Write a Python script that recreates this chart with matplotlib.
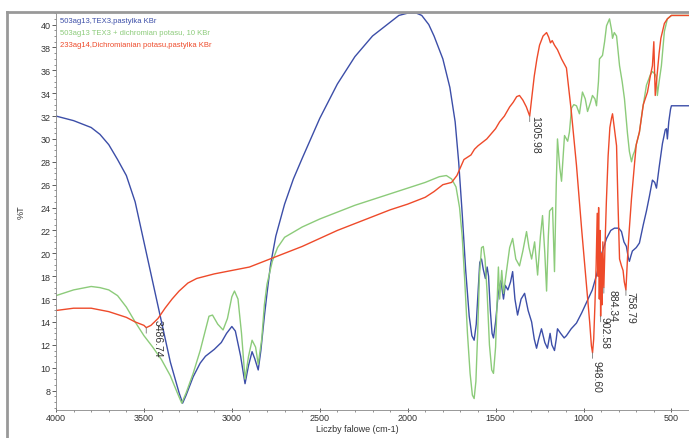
import matplotlib
matplotlib.use("Agg")
import matplotlib.pyplot as plt
from matplotlib.lines import Line2D
from matplotlib.ticker import MultipleLocator

plt.rcParams['font.family'] = ['Liberation Sans', 'DejaVu Sans']

# widma IR: liczba falowa (cm-1) i %T
wn_blue = [4000, 3900, 3800, 3750, 3700, 3650, 3600, 3550, 3500, 3450, 3400, 3350, 3300, 3280,
           3260, 3220, 3180, 3150, 3100, 3060, 3030, 3000, 2980, 2950, 2925, 2905, 2885, 2870,
           2850, 2835, 2815, 2800, 2780, 2750, 2700, 2650, 2600, 2500, 2400, 2300, 2200, 2100,
           2050, 2000, 1950, 1920, 1880, 1850, 1800, 1760, 1730, 1710, 1690, 1670, 1650, 1635,
           1622, 1610, 1600, 1590, 1580, 1570, 1558, 1548, 1540, 1530, 1520, 1512, 1500, 1485,
           1470, 1455, 1445, 1430, 1415, 1403, 1390, 1375, 1355, 1335, 1315, 1295, 1280, 1267,
           1255, 1239, 1220, 1205, 1190, 1180, 1165, 1155, 1148, 1130, 1110, 1097, 1070, 1040,
           1010, 977, 950, 926, 900, 869, 845, 824, 800, 784, 770, 756, 745, 739, 730, 722, 700,
           682, 660, 642, 625, 608, 595, 585, 570, 551, 535, 528, 523, 515, 505, 500, 400]
t_blue = [32.0, 31.6, 31.0, 30.4, 29.5, 28.2, 26.8, 24.5, 21.0, 17.5, 14.0, 10.5, 7.8, 6.9,
          7.6, 9.2, 10.4, 11.0, 11.6, 12.2, 13.0, 13.6, 13.2, 11.0, 8.6, 10.2, 11.4, 10.8,
          9.8, 11.5, 14.5, 16.5, 19.0, 21.5, 24.3, 26.5, 28.3, 31.8, 34.8, 37.2, 39.0, 40.2,
          40.8, 41.0, 41.0, 40.8, 40.0, 39.0, 37.0, 34.5, 31.5, 28.0, 23.5, 18.5, 14.5, 12.8,
          12.4, 13.8, 16.5, 19.2, 19.5, 18.6, 17.8, 18.8, 18.0, 15.0, 13.0, 12.6, 14.0, 16.5,
          17.6, 16.0, 17.2, 16.8, 17.5, 18.4, 16.0, 14.6, 16.0, 16.5, 15.0, 14.0, 12.5, 11.7,
          12.5, 13.4, 12.2, 11.7, 13.0, 12.0, 11.5, 12.5, 13.4, 13.0, 12.6, 12.8, 13.4, 13.9,
          14.8, 15.9, 16.8, 18.1, 19.8, 21.3, 22.0, 22.2, 22.2, 21.9, 21.0, 20.6, 19.6, 19.3,
          19.8, 20.2, 20.5, 20.9, 22.5, 23.7, 25.0, 26.4, 26.2, 25.7, 27.5, 29.6, 30.8, 30.9,
          30.0, 31.5, 32.6, 32.9, 32.9]

wn_green = [4000, 3900, 3800, 3750, 3700, 3650, 3600, 3550, 3500, 3450, 3400, 3350, 3310, 3285,
            3260, 3220, 3180, 3150, 3130, 3110, 3080, 3050, 3025, 3000, 2985, 2965, 2945, 2925,
            2905, 2885, 2865, 2850, 2830, 2815, 2800, 2770, 2740, 2700, 2600, 2500, 2400, 2300,
            2200, 2100, 2000, 1900, 1820, 1780, 1750, 1725, 1705, 1690, 1675, 1660, 1645, 1632,
            1622, 1612, 1602, 1592, 1580, 1570, 1560, 1548, 1535, 1522, 1512, 1500, 1492, 1484,
            1477, 1465, 1455, 1440, 1420, 1403, 1385, 1364, 1345, 1324, 1310, 1295, 1278, 1261,
            1245, 1233, 1220, 1210, 1200, 1193, 1176, 1165, 1155, 1148, 1135, 1125, 1108, 1090,
            1080, 1068, 1055, 1040, 1023, 1006, 990, 977, 960, 949, 935, 926, 915, 909, 892, 880,
            869, 852, 840, 835, 825, 812, 795, 780, 767, 750, 739, 727, 718, 710, 695, 682, 665,
            642, 620, 608, 590, 585, 580, 570, 557, 540, 523, 500, 400]
t_green = [16.3, 16.8, 17.1, 17.0, 16.8, 16.3, 15.3, 14.0, 12.8, 11.8, 10.7, 9.3, 7.8, 6.9,
           7.8, 9.5, 11.5, 13.3, 14.5, 14.6, 13.8, 13.3, 14.3, 16.2, 16.7, 16.0, 13.0, 9.0,
           11.0, 12.4, 11.8, 10.3, 12.5, 15.5, 17.3, 19.3, 20.5, 21.4, 22.3, 23.0, 23.6, 24.2,
           24.7, 25.2, 25.7, 26.2, 26.7, 26.8, 26.5, 25.8, 24.0, 21.5, 17.5, 13.0, 9.5, 7.6,
           7.3, 8.8, 13.0, 18.0, 20.5, 20.6, 19.5, 16.5, 12.0, 9.8, 9.5, 11.8, 15.5, 18.8,
           16.0, 18.5, 16.5, 18.2, 20.5, 21.3, 19.5, 18.9, 20.2, 21.9, 20.5, 19.5, 21.0, 18.1,
           21.5, 23.3, 20.0, 16.7, 21.5, 23.7, 24.0, 18.4, 26.0, 30.0, 27.5, 26.3, 30.3, 29.8,
           30.6, 32.7, 33.0, 32.9, 32.2, 34.1, 33.5, 32.4, 33.2, 33.8, 33.5, 32.9, 35.0, 37.0,
           37.3, 38.5, 39.9, 40.5, 39.5, 38.8, 39.3, 39.0, 36.4, 35.0, 33.5, 30.5, 28.9, 28.0,
           28.6, 28.9, 29.8, 30.6, 32.5, 34.7, 35.6, 35.9, 35.6, 35.3, 33.8, 35.0, 36.4, 39.4,
           40.5, 40.8, 40.8]

wn_red = [4000, 3900, 3800, 3700, 3600, 3550, 3500, 3486.74, 3460, 3420, 3380, 3340, 3300, 3250,
          3200, 3100, 3000, 2900, 2800, 2700, 2600, 2500, 2400, 2300, 2200, 2100, 2000, 1900,
          1850, 1800, 1750, 1720, 1700, 1680, 1660, 1640, 1620, 1600, 1550, 1500, 1477, 1450,
          1420, 1400, 1380, 1364, 1345, 1325, 1305.98, 1295, 1280, 1265, 1250, 1230, 1210, 1198,
          1188, 1178, 1165, 1148, 1125, 1097, 1070, 1040, 1010, 983, 965, 955, 948.60, 942, 935,
          928, 922, 918, 914, 910, 906, 902.58, 898, 894, 890, 884.34, 878, 870, 860, 850, 841,
          835, 825, 812, 805, 795, 784, 775, 768, 758.79, 750, 740, 727, 710, 700, 682, 660, 636,
          620, 608, 600, 596, 592, 585, 570, 560, 540, 523, 500, 400]
t_red = [15.0, 15.2, 15.2, 14.9, 14.4, 14.0, 13.7, 13.5, 13.7, 14.3, 15.2, 16.0, 16.7, 17.4,
         17.8, 18.2, 18.5, 18.8, 19.4, 20.0, 20.6, 21.3, 22.0, 22.6, 23.2, 23.8, 24.3, 24.9,
         25.4, 26.0, 26.2, 26.8, 27.5, 28.2, 28.4, 28.6, 29.1, 29.4, 30.0, 30.9, 31.5, 32.0,
         32.8, 33.2, 33.7, 33.8, 33.4, 32.8, 32.0, 33.5, 35.5, 37.0, 38.2, 39.0, 39.3, 38.9,
         38.4, 38.6, 38.2, 37.8, 37.0, 36.2, 32.5, 27.7, 22.0, 17.2, 14.0, 11.9, 11.3, 12.5, 15.5,
         19.0, 23.5, 18.0, 24.0, 16.0, 22.0, 14.5, 20.0, 15.5, 21.0, 17.0, 20.5, 24.5, 28.5,
         31.0, 31.8, 32.2, 31.0, 29.4, 25.0, 19.5, 18.9, 18.5, 17.5, 16.8, 19.5, 22.0, 24.8,
         27.8, 29.5, 30.6, 33.0, 34.1, 35.5, 36.4, 38.5, 36.0, 33.8, 35.0, 37.5, 38.8, 40.1,
         40.5, 40.8, 40.8]

names = ["503ag13,TEX3,pastylka KBr",
         "503ag13 TEX3 + dichromian potasu, 10 KBr",
         "233ag14,Dichromianian potasu,pastylka KBr"]
colors = ["#3c4ea8", "#8ccb7a", "#ee4a2a"]

# piki opisane na widmie (czerwona krzywa)
peak_wn = [3486.74, 1305.98, 948.60, 902.58, 884.34, 758.79]
peak_t = [13.5, 32.0, 11.3, 14.5, 17.0, 16.8]
peak_dx = [8, 4, 3, 3, 6, 3]     # przesunięcie opisu w punktach
peak_dy = [6, 1, -5, 0, -1, -1]

fig = plt.figure(figsize=(6.89, 4.39), dpi=100)
ax = fig.add_axes([0.0813, 0.0638, 0.9187, 0.9066])

for wn, t, c in zip([wn_blue, wn_green, wn_red], [t_blue, t_green, t_red], colors):
    ax.plot(wn, t, color=c, lw=1.0)

ax.set_xlim(4000, 400)
ax.set_ylim(6.3, 41.1)
ax.xaxis.set_major_locator(MultipleLocator(500))
ax.xaxis.set_minor_locator(MultipleLocator(100))
ax.yaxis.set_minor_locator(MultipleLocator(0.5))
ax.set_yticks(range(8, 42, 2))
ax.tick_params(axis='both', labelsize=6.5, colors='#444444', labelcolor='#333333',
               length=3, width=0.6)
ax.tick_params(axis='both', which='minor', length=1.5, width=0.5, colors='#666666')
ax.tick_params(axis='x', direction='inout', pad=0.5)
ax.tick_params(axis='y', pad=1)
for s in ['top', 'right']:
    ax.spines[s].set_visible(False)
for s in ['left', 'bottom']:
    ax.spines[s].set_color('#888888')
    ax.spines[s].set_linewidth(0.6)

for i, (name, c) in enumerate(zip(names, colors)):
    ax.text(0.006, 0.978 - i * 0.03, name, color=c, fontsize=5.5,
            transform=ax.transAxes, va='center', ha='left')

for wn, t, dx, dy in zip(peak_wn, peak_t, peak_dx, peak_dy):
    ax.annotate("", xy=(wn, t), xytext=(0, -4), textcoords='offset points',
                arrowprops=dict(arrowstyle='-', color='#777777', lw=0.6,
                                shrinkA=0, shrinkB=0))
    ax.annotate("%.2f" % wn, xy=(wn, t), xytext=(dx, dy), textcoords='offset points',
                rotation=270, ha='center', va='top', fontsize=7.5, color='#333333')

fig.text(21 / 689, 1 - 212 / 439, "%T", rotation=90, fontsize=6.5, color='#333333',
         ha='center', va='center')
fig.text(357 / 689, 1 - 430 / 439, "Liczby falowe (cm-1)", fontsize=6.5, color='#333333',
         ha='center', va='center')

# szara ramka okna
fig.add_artist(Line2D([7 / 689, 1], [1 - 13 / 439, 1 - 13 / 439], color='#999999', lw=2,
                      transform=fig.transFigure))
fig.add_artist(Line2D([7 / 689, 7 / 689], [0, 1 - 13 / 439], color='#999999', lw=2,
                      transform=fig.transFigure))

fig.savefig("out.png", dpi=100)
